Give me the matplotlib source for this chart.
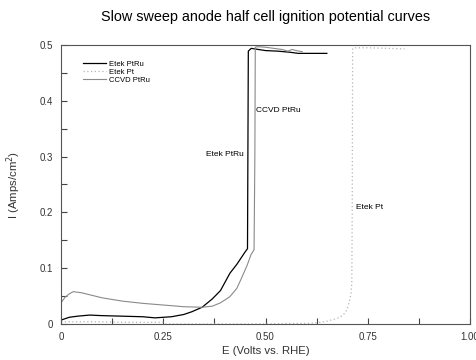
import matplotlib
matplotlib.use("Agg")
import matplotlib.pyplot as plt
from matplotlib.ticker import MultipleLocator

plt.rcParams['font.family'] = ['Liberation Sans', 'DejaVu Sans']

# Etek PtRu (black solid)
etek_ptru_E = [0, 0.02, 0.04, 0.07, 0.10, 0.15, 0.20, 0.23, 0.27, 0.30, 0.32, 0.345, 0.37,
               0.39, 0.413, 0.43, 0.45, 0.456, 0.458, 0.465, 0.50, 0.53, 0.56, 0.58, 0.65]
etek_ptru_I = [0.007, 0.012, 0.014, 0.016, 0.015, 0.014, 0.013, 0.011, 0.013, 0.017, 0.022,
               0.030, 0.045, 0.060, 0.091, 0.107, 0.129, 0.135, 0.489, 0.494, 0.490, 0.489,
               0.487, 0.485, 0.485]

# Etek Pt (light dotted)
etek_pt_E = [0, 0.05, 0.10, 0.15, 0.20, 0.25, 0.255, 0.30, 0.40, 0.50, 0.55, 0.60, 0.625,
             0.65, 0.67, 0.682, 0.695, 0.70, 0.705, 0.709, 0.711, 0.712, 0.713, 0.72, 0.75,
             0.80, 0.84]
etek_pt_I = [0.004, 0.004, 0.004, 0.003, 0.003, 0.003, 0.0, 0.0, 0.0, 0.0, 0.001, 0.001,
             0.002, 0.005, 0.009, 0.012, 0.020, 0.028, 0.040, 0.055, 0.073, 0.20, 0.494,
             0.495, 0.495, 0.494, 0.493]

# CCVD PtRu (gray solid)
ccvd_E = [0, 0.01, 0.02, 0.03, 0.05, 0.10, 0.15, 0.20, 0.25, 0.30, 0.345, 0.37, 0.39, 0.413,
          0.43, 0.44, 0.455, 0.465, 0.472, 0.474, 0.475, 0.48, 0.50, 0.52, 0.54, 0.555,
          0.565, 0.575, 0.59]
ccvd_I = [0.038, 0.048, 0.054, 0.058, 0.056, 0.047, 0.041, 0.037, 0.034, 0.031, 0.030,
          0.032, 0.038, 0.049, 0.064, 0.080, 0.105, 0.125, 0.133, 0.30, 0.496, 0.497,
          0.496, 0.494, 0.492, 0.489, 0.492, 0.490, 0.488]

x_ticks = [0, 0.25, 0.50, 0.75, 1.00]
x_tick_labels = ['0', '0.25', '0.50', '0.75', '1.00']
y_ticks = [0, 0.1, 0.2, 0.3, 0.4, 0.5]
y_tick_labels = ['0', '0.1', '0.2', '0.3', '0.4', '0.5']

fig = plt.figure(figsize=(4.77, 3.6), dpi=100)
ax = fig.add_axes([61/477, 36/360, 409/477, 279/360])

ax.plot(etek_ptru_E, etek_ptru_I, color='black', lw=0.9, label='Etek PtRu')
ax.plot(etek_pt_E, etek_pt_I, color='#b5b5b5', lw=0.9, linestyle=(0, (1, 2)), label='Etek Pt')
ax.plot(ccvd_E, ccvd_I, color='#8a8a8a', lw=0.8, label='CCVD PtRu')

ax.set_xlim(0, 1.0)
ax.set_ylim(0, 0.5)
ax.set_xticks(x_ticks)
ax.set_xticklabels(x_tick_labels)
ax.set_yticks(y_ticks)
ax.set_yticklabels(y_tick_labels)
ax.xaxis.set_minor_locator(MultipleLocator(0.125))
ax.yaxis.set_minor_locator(MultipleLocator(0.05))
ax.tick_params(which='both', direction='in', colors='#444444', width=0.8)
ax.tick_params(which='major', length=4, labelsize=7, pad=6, labelcolor='#333333')
ax.tick_params(which='minor', length=4)
for s in ax.spines.values():
    s.set_color('#555555')
    s.set_linewidth(0.8)

ax.set_xlabel('E (Volts vs. RHE)', fontsize=8.2, color='#333333', labelpad=3)
ax.set_ylabel('I (Amps/cm$^2$)', fontsize=8.2, color='#333333', labelpad=12)
ax.set_title('Slow sweep anode half cell ignition potential curves', fontsize=10.4, pad=17)

ax.legend(loc='upper left', bbox_to_anchor=(0.054, 0.945), frameon=False, fontsize=5.5,
          handlelength=3, handletextpad=0.4, labelspacing=0.08, borderpad=0, borderaxespad=0)

ax.text(0.477, 0.382, 'CCVD PtRu', fontsize=6, va='center', ha='left')
ax.text(0.355, 0.303, 'Etek PtRu', fontsize=6, va='center', ha='left')
ax.text(0.722, 0.208, 'Etek Pt', fontsize=6, va='center', ha='left')

fig.savefig('out.png', dpi=100)
